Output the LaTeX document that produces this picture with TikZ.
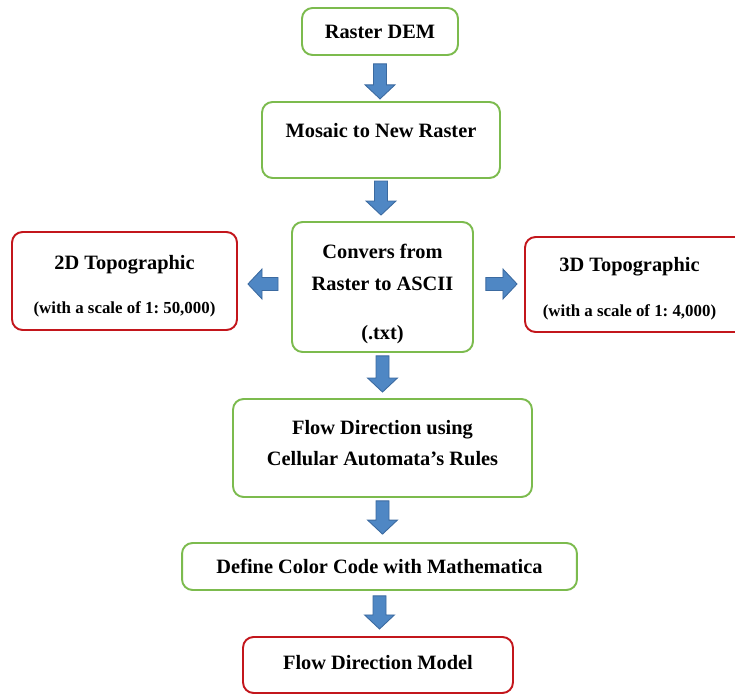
\documentclass[tikz,border=0pt]{standalone}
\usepackage{fontspec}
\setmainfont{Liberation Serif}
\usetikzlibrary{calc}
\definecolor{boxgreen}{HTML}{7CBB4E}
\definecolor{boxred}{HTML}{C3161C}
\definecolor{arrfill}{HTML}{4F87C4}
\definecolor{arredge}{HTML}{3B6AA0}

% fat block arrow from #1 to #2 (shaft 7.4pt, head 17pt wide, 8pt long)
\newcommand{\blkarrow}[2]{%
  \filldraw[blk] let \p1=(#1), \p2=(#2),
    \n1={atan2(\y2-\y1,\x2-\x1)}, \n2={veclen(\x2-\x1,\y2-\y1)} in
    [shift={(\p1)}, rotate=\n1]
    (0pt,-3.7pt) -- ({\n2-8pt},-3.7pt) -- ({\n2-8pt},-8.5pt) -- (\n2,0pt)
    -- ({\n2-8pt},8.5pt) -- ({\n2-8pt},3.7pt) -- (0pt,3.7pt) -- cycle;}
\newcommand{\scaletxt}{\fontsize{9.6}{11}\selectfont}

\begin{document}
\begin{tikzpicture}[
    x=0.02cm, y=-0.02cm,
    box/.style={rectangle, rounded corners=6pt, line width=1.1pt, fill=white,
                align=center, font=\fontsize{11.6}{14}\selectfont\bfseries, inner sep=2pt},
    gbox/.style={box, draw=boxgreen},
    rbox/.style={box, draw=boxred},
    blk/.style={fill=arrfill, draw=arredge, line width=0.5pt, line join=miter}
  ]
  \useasboundingbox (0,0) rectangle (735,695);

  % ---- main column ----
  \node[gbox, minimum width=3.12cm, minimum height=0.94cm] (dem) at (380,31.5)
    {Raster DEM};
  \node[gbox, minimum width=4.76cm, minimum height=1.52cm] (mosaic) at (381,140)
    {Mosaic to New Raster\\[-3pt]\mbox{}};
  \node[gbox, minimum width=3.62cm, minimum height=2.6cm] (convers) at (382.5,287)
    {\mbox{}\\[2pt]Convers from\\[4.7pt]Raster to ASCII\\[13.8pt](.txt)};
  \node[gbox, minimum width=5.98cm, minimum height=1.96cm] (flowca) at (382.5,448)
    {Flow Direction using\\[3.6pt]Cellular Automata's Rules\\[-7.8pt]\mbox{}};
  \node[gbox, minimum width=7.9cm, minimum height=0.94cm] (color) at (379.5,566.5)
    {Define Color Code with Mathematica};
  \node[rbox, minimum width=5.4cm, minimum height=1.12cm] (model) at (378,665)
    {Flow Direction Model\\[-10.6pt]\mbox{}};

  % ---- side outputs ----
  \node[rbox, minimum width=4.5cm, minimum height=1.96cm] (topo2d) at (124.5,281)
    {\mbox{}\\2D Topographic\\[11pt]{\scaletxt (with a scale of 1:\ 50,000)}};
  \node[rbox, minimum width=4.6cm, minimum height=1.9cm] (topo3d) at (640,284.5)
    {\mbox{}\\[-1pt]\hspace*{-12pt}3D Topographic\\[11.5pt]%
     \hspace*{-12pt}{\scaletxt (with a scale of 1:\ 4,000)}};

  % ---- block arrows ----
  \blkarrow{$(dem.south)+(0pt,-4.5pt)$}{$(dem.south |- mosaic.north)+(0pt,1.2pt)$}
  \blkarrow{$(mosaic.south)+(0pt,-1.2pt)$}{$(mosaic.south |- convers.north)+(0pt,3.4pt)$}
  \blkarrow{$(convers.south)+(0pt,-1.7pt)$}{$(convers.south |- flowca.north)+(0pt,3.4pt)$}
  \blkarrow{$(flowca.south)+(0pt,-1.7pt)$}{$(flowca.south |- color.north)+(0pt,4.5pt)$}
  \blkarrow{$(color.south)+(0pt,-2.8pt)$}{$(color.south |- model.north)+(0pt,4pt)$}
  \blkarrow{$(convers.west)+(-7.4pt,1.7pt)$}{$(topo2d.east |- convers.west)+(5.7pt,1.7pt)$}
  \blkarrow{$(convers.east)+(6.8pt,1.7pt)$}{$(topo3d.west |- convers.east)+(-4pt,1.7pt)$}

\end{tikzpicture}
\end{document}
